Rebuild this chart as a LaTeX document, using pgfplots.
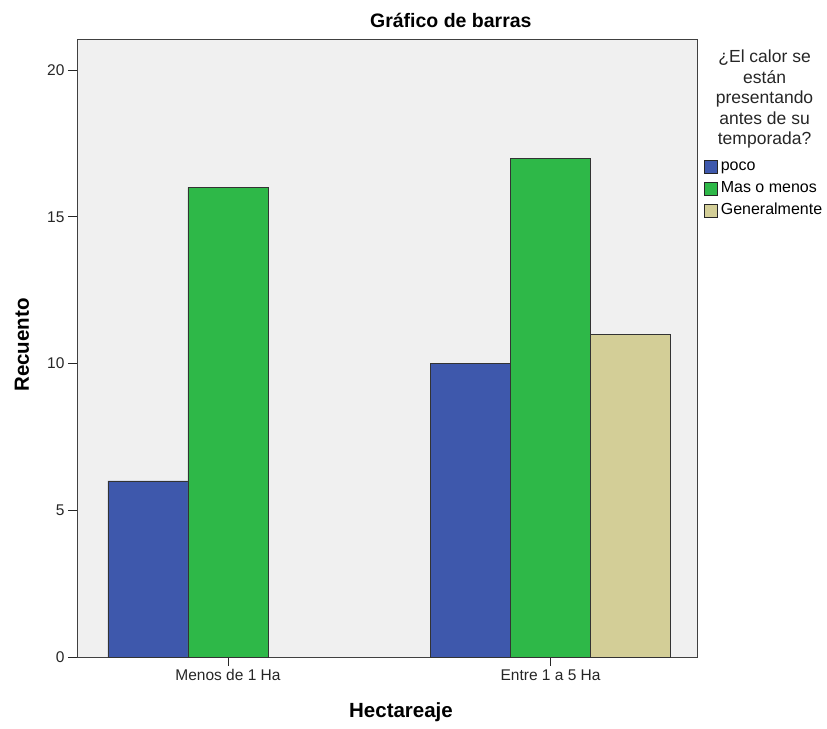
\documentclass[border=0pt]{standalone}
\usepackage{pgfplots}
\pgfplotsset{compat=1.18}
\usepackage{fontspec}
\setmainfont{Liberation Sans}
\definecolor{cpoco}{RGB}{62,88,172}
\definecolor{cmas}{RGB}{46,184,72}
\definecolor{cgen}{RGB}{211,206,151}
\definecolor{bgc}{RGB}{240,240,240}
\begin{document}
\begin{tikzpicture}
\begin{axis}[
  scale only axis, width=620pt, height=618pt,
  xmin=-0.468, xmax=1.454, ymin=0, ymax=21.06,
  clip=false,
  axis background/.style={fill=bgc},
  axis line style={draw=black!75, line width=0.9pt},
  xtick={0,1}, xticklabels={Menos de 1 Ha, Entre 1 a 5 Ha},
  ytick={0,5,10,15,20},
  tick align=outside, major tick length=9pt,
  xtick pos=bottom, ytick pos=left,
  tick style={black!85, line width=0.9pt},
  ticklabel style={font=\fontsize{15.5}{18}\selectfont, text=black!85},
  /pgf/number format/assume math mode=true,
  legend style={at={(axis description cs:1.011,0.807)}, anchor=north west,
    draw=none, fill=none, font=\fontsize{16}{19}\selectfont,
    row sep=5pt, inner sep=0pt,
    nodes={inner sep=1pt, text height=11.5pt, text depth=3.5pt}},
  legend cell align=left,
  legend image code/.code={\draw[#1, draw=black!85, line width=0.8pt] (0pt,-6.5pt) rectangle (13pt,6.5pt); \path (15pt,0pt);},
]
\addplot[ybar, bar width=0.248, bar shift=-0.248, fill=cpoco, draw=black!80, line width=0.8pt] coordinates {(0,6) (1,10)};
\addlegendentry{poco}
\addplot[ybar, bar width=0.248, bar shift=0, fill=cmas, draw=black!80, line width=0.8pt] coordinates {(0,16) (1,17)};
\addlegendentry{Mas o menos}
\addplot[ybar, bar width=0.248, bar shift=0.248, fill=cgen, draw=black!80, line width=0.8pt] coordinates {(1,11)};
\addlegendentry{Generalmente}
\node[anchor=base, font=\fontsize{19.5}{22}\selectfont\bfseries] at (axis description cs:0.603,1.0178) {Gráfico de barras};
\node[anchor=base, font=\fontsize{20.5}{24}\selectfont\bfseries] at (axis description cs:0.5226,-0.0987) {Hectareaje};
\node[rotate=90, anchor=center, font=\fontsize{20.5}{24}\selectfont\bfseries] at (axis description cs:-0.0887,0.505) {Recuento};
\node[anchor=north, align=center, font=\fontsize{17.5}{20.5}\selectfont, text=black!85] at (axis description cs:1.109,0.988) {¿El calor se\\están\\presentando\\antes de su\\temporada?};
\end{axis}
\pgfresetboundingbox
\useasboundingbox ([xshift=-77pt,yshift=-71pt]current axis.south west) rectangle ([xshift=130pt,yshift=39pt]current axis.north east);
\end{tikzpicture}
\end{document}
